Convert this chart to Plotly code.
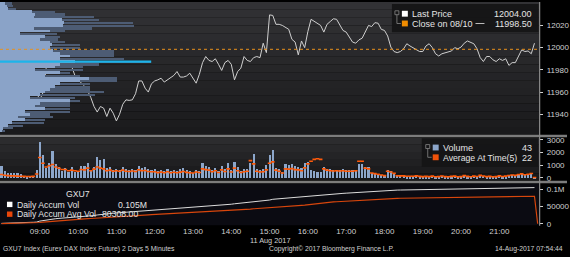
import numpy as np
import pandas as pd
import plotly.graph_objects as go

W, H = 570, 257

# ---------------- data ----------------
bar_times = pd.date_range("2017-08-11 08:00", periods=168, freq="5min")

close_prices = [
    11956.0, 11955.0, 11963.5, 11965.5, 11962.0, 11965.5, 11966.5, 11963.0, 11965.5, 11967.5, 11963.5, 11959.5,
    11953.0, 11959.5, 11981.5, 11988.5, 11986.5, 11985.0, 11985.5, 11986.5, 11985.5, 11990.0, 11983.0, 11975.0,
    11971.0, 11968.0, 11965.5, 11961.0, 11955.0, 11947.0, 11942.0, 11947.0, 11945.5, 11938.0, 11945.5, 11941.0,
    11934.0, 11940.0, 11949.0, 11953.0, 11952.5, 11953.0, 11958.5, 11970.0, 11970.0, 11963.5, 11960.0, 11967.5,
    11970.0, 11971.0, 11972.5, 11969.0, 11971.0, 11973.5, 11975.0, 11978.5, 11973.5, 11973.5, 11974.5, 11977.0,
    11972.5, 11968.0, 11976.0, 11986.5, 11992.0, 11988.5, 11987.5, 11990.0, 11985.0, 11979.5, 11986.5, 11988.5,
    11985.0, 11971.0, 11978.5, 11981.5, 11992.0, 11988.5, 11987.5, 11991.0, 11992.0, 11991.0, 12004.0, 11995.5,
    12029.5, 12029.0, 12021.0, 12021.0, 12020.0, 12018.0, 12016.5, 12007.5, 12005.0, 11993.5, 12006.0, 12000.0,
    12014.5, 12025.5, 12023.5, 12022.0, 12020.0, 12014.0, 12021.0, 12023.5, 12026.0, 12025.5, 12021.0, 12015.5,
    12014.0, 12009.5, 12005.0, 12004.0, 12007.0, 12008.5, 12014.5, 12020.0, 12019.0, 12022.5, 12022.0, 12016.5,
    12015.5, 12010.5, 12000.5, 11996.5, 11995.5, 11996.5, 11999.0, 12003.5, 12001.5, 12000.0, 11998.0, 11996.5,
    11996.5, 12001.5, 12003.5, 12000.0, 11994.5, 11992.5, 11994.5, 11995.5, 11996.5, 11997.0, 12000.0, 11999.0,
    12000.5, 12004.0, 12006.0, 12005.0, 12003.5, 11999.0, 11991.0, 11987.5, 11992.0, 11992.0, 11989.0, 11987.5,
    11990.0, 11988.5, 11990.0, 11984.0, 11986.5, 11986.5, 11992.5, 11998.0, 11996.5, 11997.0, 11994.5, 12004.0,
]

volume = [
    950, 560, 420, 380, 420, 380, 280, 200, 150, 190, 170, 650,
    2850, 1820, 820, 1200, 2150, 1080, 900, 570, 830, 450, 880, 450,
    530, 950, 950, 1150, 650, 900, 1650, 1420, 1480, 780, 850, 650,
    700, 650, 850, 700, 650, 700, 650, 950, 780, 850, 700, 650,
    700, 530, 650, 530, 700, 530, 650, 530, 700, 780, 650, 530,
    420, 650, 530, 1150, 950, 850, 650, 780, 530, 950, 700, 1150,
    630, 1300, 900, 570, 700, 750, 1200, 1920, 750, 630, 700, 1000,
    1850, 2180, 830, 750, 450, 1080, 1000, 1080, 950, 900, 830, 1200,
    1300, 650, 520, 450, 450, 850, 700, 700, 650, 650, 650, 700,
    600, 600, 600, 650, 1100, 1100, 900, 850, 420, 370, 300, 230,
    170, 600, 520, 400, 170, 170, 170, 120, 120, 120, 170, 120,
    120, 150, 120, 170, 100, 130, 190, 120, 100, 150, 170, 100,
    120, 220, 150, 110, 170, 140, 260, 190, 120, 150, 100, 130,
    170, 110, 150, 210, 260, 220, 300, 360, 260, 320, 390, 43,
]

avg_at_time = [
    260, 200, 170, 150, 150, 130, 120, 110, 100, 100, 110, 300,
    1600, 1150, 850, 950, 1050, 850, 750, 650, 650, 560, 600, 560,
    520, 650, 620, 760, 560, 680, 850, 760, 700, 560, 600, 520,
    560, 520, 600, 520, 500, 540, 500, 620, 560, 580, 500, 480,
    470, 410, 450, 400, 470, 400, 440, 400, 450, 490, 430, 400,
    380, 460, 420, 700, 640, 600, 480, 560, 420, 620, 500, 700,
    460, 760, 560, 420, 480, 520, 1350, 1100, 520, 460, 480, 620,
    1150, 1250, 600, 520, 380, 700, 680, 720, 640, 620, 560, 780,
    1100, 1300, 1450, 1500, 1450, 700, 600, 560, 540, 560, 540, 560,
    520, 520, 520, 560, 1300, 1300, 760, 700, 380, 330, 280, 220,
    170, 520, 460, 350, 160, 150, 150, 120, 120, 120, 150, 110,
    90, 110, 90, 130, 80, 90, 140, 90, 80, 110, 130, 80,
    90, 170, 110, 80, 130, 100, 190, 140, 90, 110, 80, 90,
    150, 100, 130, 180, 220, 190, 260, 310, 240, 280, 340, 22,
]

profile_prices = [
    12040.0, 12037.5, 12035.0, 12032.5, 12030.0, 12027.5, 12025.0, 12022.5, 12020.0, 12017.5,
    12015.0, 12012.5, 12010.0, 12007.5, 12005.0, 12002.5, 12000.0, 11997.5, 11995.0, 11992.5,
    11990.0, 11987.5, 11985.0, 11982.5, 11980.0, 11977.5, 11975.0, 11972.5, 11970.0, 11967.5,
    11965.0, 11962.5, 11960.0, 11957.5, 11955.0, 11952.5, 11950.0, 11947.5, 11945.0, 11942.5,
    11940.0, 11937.5, 11935.0, 11932.5, 11930.0, 11927.5, 11925.0,
]
profile_light = [
    125, 175, 200, 800, 875, 850, 1550, 1600, 1575, 850, 1250, 500, 1125, 1000, 1250, 1300,
    1250, 1325, 1500, 1750, 1500, 1875, 1500, 1375, 875, 1500, 1125, 2225, 2000, 1500, 1375,
    1250, 1125, 1000, 750, 1750, 1000, 875, 1125, 625, 750, 450, 625, 300, 200, 75, 50,
]
profile_dark = [
    175, 150, 200, 575, 750, 1500, 950, 1750, 1800, 1450, 375, 925, 375, 450, 375, 700,
    750, 1550, 1375, 1125, 1625, 1925, 1000, 700, 1200, 250, 875, 725, 950, 750, 875,
    1000, 1500, 1375, 1125, 250, 750, 875, 625, 1125, 500, 875, 500, 800, 375, 250, 75,
]

prev_close = 11998.50
last_price = 12004.00
accum_vol_label = "0.105M"
accum_avg_label = "80308.00"
price_ticks = [11940, 11960, 11980, 12000, 12020]
volume_ticks = [0, 1000, 2000, 3000]
accum_ticks = [0, 50000, 100000]
accum_tick_text = ["0", "50000", "0.1M"]
hour_ticks = pd.date_range("2017-08-11 09:00", "2017-08-11 21:00", freq="h")
day_bounds = [pd.Timestamp("2017-08-11 08:00"), pd.Timestamp("2017-08-11 22:00")]

# ---------------- derived ----------------
accum_vol = np.cumsum(volume)
accum_avg = list(np.cumsum(avg_at_time)) + [0]
accum_avg_x = list(bar_times) + [day_bounds[1]]
prof_total = np.array(profile_light) + np.array(profile_dark)
poc = int(np.argmax(prof_total))

# ---------------- layout helpers ----------------
def px(x):
    return x / W

def py(y):
    return 1 - y / H

XR = [pd.Timestamp("2017-08-11 07:57:40"), pd.Timestamp("2017-08-11 22:02:20")]
XD = [0, 542 / W]
FONT = "Liberation Sans, Arial, sans-serif"
TXT = "#e4e4e4"

fig = go.Figure()

# volume-at-price profile (left of price panel)
fig.add_trace(go.Bar(orientation="h", x=profile_light, y=profile_prices, width=2.5,
                     marker=dict(color="#8aa3c8", line=dict(width=0)),
                     xaxis="x2", yaxis="y", hoverinfo="skip"))
fig.add_trace(go.Bar(orientation="h", x=profile_dark, base=profile_light, y=profile_prices, width=1.5,
                     marker=dict(color="#4d5c74", line=dict(width=0)),
                     xaxis="x2", yaxis="y", hoverinfo="skip"))
fig.add_trace(go.Scatter(x=[0, prof_total[poc]], y=[profile_prices[poc]] * 2, mode="lines",
                         line=dict(color="#1db4ea", width=2.2), xaxis="x2", yaxis="y"))

# price line
fig.add_trace(go.Scatter(x=bar_times, y=close_prices, mode="lines",
                         line=dict(color="#cfcfcf", width=1), xaxis="x", yaxis="y"))

# volume panel
fig.add_trace(go.Bar(x=bar_times, y=volume, width=200000,
                     marker=dict(color="#8ca6ca", line=dict(width=0)),
                     xaxis="x3", yaxis="y2"))
fig.add_trace(go.Scatter(x=bar_times, y=avg_at_time, mode="markers",
                         marker=dict(symbol="line-ew", size=2.6, line=dict(width=1.6, color="#ff5a0a")),
                         xaxis="x3", yaxis="y2"))

# accumulated volume panel
fig.add_trace(go.Scatter(x=bar_times, y=accum_vol, mode="lines",
                         line=dict(color="#dcdcdc", width=1), xaxis="x4", yaxis="y3"))
fig.add_trace(go.Scatter(x=accum_avg_x, y=accum_avg, mode="lines",
                         line=dict(color="#d8460c", width=1.2), xaxis="x4", yaxis="y3"))

tickfont = dict(family=FONT, size=8, color="#d0d0d0")
common_x = dict(domain=XD, range=XR, type="date", showgrid=False, zeroline=False, showline=False)

fig.update_layout(
    width=W, height=H, margin=dict(l=0, r=0, t=0, b=0),
    paper_bgcolor="#000000", plot_bgcolor="rgba(0,0,0,0)",
    showlegend=False, barmode="overlay", bargap=0,
    xaxis=dict(**common_x, anchor="y", showticklabels=False, ticks=""),
    xaxis2=dict(overlaying="x", anchor="y", range=[0, 13550], visible=False),
    xaxis3=dict(**common_x, anchor="y2", showticklabels=False, ticks=""),
    xaxis4=dict(**common_x, anchor="y3", tickmode="array", tickvals=list(hour_ticks),
                ticktext=[t.strftime("%H:%M") for t in hour_ticks], ticks="",
                tickfont=tickfont),
    xaxis5=dict(domain=XD, range=XR, type="date", overlaying="x4", anchor="y3", side="bottom",
                showgrid=False, zeroline=False, showticklabels=False,
                showline=True, linecolor="#8c8c8c", linewidth=1,
                tickmode="array", tickvals=day_bounds, ticks="outside", ticklen=12,
                tickcolor="#9a9a9a", tickwidth=1,
                minor=dict(dtick=3600000, tick0="2017-08-11 08:30:00", ticks="outside",
                           ticklen=3, tickcolor="#9a9a9a", tickwidth=1)),
    yaxis=dict(domain=[py(136), 1], range=[11921.5, 12041.1], side="right", anchor="x",
               tickmode="array", tickvals=price_ticks, ticktext=[str(v) for v in price_ticks],
               ticks="outside", ticklen=3, tickcolor="#d0d0d0",
               tickfont=tickfont, showgrid=False, zeroline=False, ticklabelstandoff=2),
    yaxis2=dict(domain=[py(182), py(139)], range=[-154, 3154], side="right", anchor="x3",
                tickmode="array", tickvals=volume_ticks, ticktext=[str(v) for v in volume_ticks],
                ticks="outside", ticklen=3, tickcolor="#d0d0d0",
                tickfont=tickfont, showgrid=False, zeroline=False, ticklabelstandoff=2),
    yaxis3=dict(domain=[py(228), py(186)], range=[-2857, 117143], side="right", anchor="x4",
                tickmode="array", tickvals=accum_ticks, ticktext=accum_tick_text,
                ticks="outside", ticklen=3, tickcolor="#d0d0d0", tickfont=tickfont,
                showgrid=False, zeroline=False, ticklabelstandoff=2),
)

shapes = []

def band_bg(y_top, y_bot, c_top, c_bot, n):
    step = (y_bot - y_top) / n
    for i in range(n):
        f = i / max(n - 1, 1)
        c = [int(round(c_top[k] + (c_bot[k] - c_top[k]) * f)) for k in range(3)]
        shapes.append(dict(type="rect", xref="paper", yref="paper", layer="below",
                           x0=0, x1=px(542), y0=py(y_top + (i + 1) * step), y1=py(y_top + i * step),
                           fillcolor="rgb(%d,%d,%d)" % tuple(c), line=dict(width=0)))

band_bg(0, 136, (50, 50, 53), (26, 26, 28), 17)
band_bg(139, 182.5, (44, 44, 46), (24, 24, 26), 6)
shapes.append(dict(type="rect", xref="paper", yref="paper", layer="below",
                   x0=0, x1=px(542), y0=py(228.5), y1=py(186), fillcolor="#0b0b12", line=dict(width=0)))

# separators
for y0, y1 in [(136, 138.5), (183, 185.5)]:
    shapes.append(dict(type="rect", xref="paper", yref="paper", x0=0, x1=1, y0=py(y1), y1=py(y0),
                       fillcolor="#7c7c7c", line=dict(width=0)))
# right axis line
shapes.append(dict(type="line", xref="paper", yref="paper", x0=px(542.5), x1=px(542.5),
                   y0=py(229), y1=1, line=dict(color="#8c8c8c", width=1.2)))

# previous close dotted line
shapes.append(dict(type="line", xref="x domain", x0=0, x1=1, yref="y", y0=prev_close, y1=prev_close,
                   line=dict(color="#e8901c", width=1, dash="dot")))

# price legend box
shapes.append(dict(type="rect", xref="paper", yref="paper", x0=px(394), x1=px(541.5), y0=py(31), y1=py(2),
                   fillcolor="rgba(20,20,22,0.93)", line=dict(width=0)))
shapes.append(dict(type="rect", xref="paper", yref="paper", x0=px(404), x1=px(410), y0=py(15), y1=py(9),
                   fillcolor="#ffffff", line=dict(width=0)))
shapes.append(dict(type="rect", xref="paper", yref="paper", x0=px(404), x1=px(410), y0=py(25), y1=py(19),
                   fillcolor="#f08c00", line=dict(width=0)))
shapes.append(dict(type="line", xref="paper", yref="paper", x0=px(478), x1=px(495), y0=py(22), y1=py(22),
                   line=dict(color="#bdbdbd", width=1, dash="dash")))
# connector glyph (price legend)
shapes.append(dict(type="rect", xref="paper", yref="paper", x0=px(397), x1=px(401), y0=py(13), y1=py(9),
                   line=dict(color="#888888", width=0.8)))
shapes.append(dict(type="path", xref="paper", yref="paper",
                   path="M %f %f L %f %f L %f %f" % (px(399), py(13), px(399), py(22), px(403), py(22)),
                   line=dict(color="#888888", width=0.8)))

# volume legend box
shapes.append(dict(type="rect", xref="paper", yref="paper", x0=px(424), x1=px(541), y0=py(169), y1=py(139.5),
                   fillcolor="rgba(20,20,22,0.93)", line=dict(width=0)))
shapes.append(dict(type="rect", xref="paper", yref="paper", x0=px(435), x1=px(441), y0=py(152), y1=py(146),
                   fillcolor="#8ca6ca", line=dict(width=0)))
shapes.append(dict(type="rect", xref="paper", yref="paper", x0=px(435), x1=px(441), y0=py(162), y1=py(156),
                   fillcolor="#f0520a", line=dict(width=0)))
shapes.append(dict(type="rect", xref="paper", yref="paper", x0=px(428), x1=px(432), y0=py(150), y1=py(146),
                   line=dict(color="#888888", width=0.8)))
shapes.append(dict(type="path", xref="paper", yref="paper",
                   path="M %f %f L %f %f L %f %f" % (px(430), py(150), px(430), py(159), px(434), py(159)),
                   line=dict(color="#888888", width=0.8)))

# accum legend squares
shapes.append(dict(type="rect", xref="paper", yref="paper", x0=px(7), x1=px(12.5), y0=py(210), y1=py(204.5),
                   fillcolor="#ffffff", line=dict(width=0)))
shapes.append(dict(type="rect", xref="paper", yref="paper", x0=px(7), x1=px(12.5), y0=py(220), y1=py(214.5),
                   fillcolor="#e8460a", line=dict(width=0)))

fig.update_layout(shapes=shapes)

def note(text, x, y, anchor="left", size=9, color=TXT):
    fig.add_annotation(text=text, xref="paper", yref="paper", x=px(x), y=py(y),
                       xanchor=anchor, yanchor="middle", showarrow=False,
                       font=dict(family=FONT, size=size, color=color))

# price legend text
note("Last Price", 412, 12.5)
note("%.2f" % last_price, 537, 12.5, "right")
note("Close on 08/10", 412, 22.5)
note("%.2f" % prev_close, 537, 22.5, "right")

# volume legend text
note("Volume", 443, 149.5)
note("%d" % volume[-1], 537, 149.5, "right")
note("Average At Time(5)", 443, 159.5, size=8.7)
note("%d" % avg_at_time[-1], 537, 159.5, "right")

# accum legend text
note("GXU7", 78, 197, "center", size=8.7)
note("Daily Accum Vol", 15, 207.5, size=8.7)
note(accum_vol_label, 150, 207.5, "right", size=8.7)
note("Daily Accum Avg Vol", 15, 217.5, size=8.7)
note(accum_avg_label, 141, 217.5, "right", size=8.7)

# date and footer
note("11 Aug 2017", 271, 244.5, "center", size=7.3, color="#d0d0d0")
note("GXU7 Index (Eurex DAX Index Future) 2 Days 5 Minutes", 1, 252.5, "left", size=6.8, color="#d0d0d0")
note("Copyright\u00a9 2017 Bloomberg Finance L.P.", 333, 252.5, "center", size=6.8, color="#d0d0d0")
note("14-Aug-2017 07:54:44", 568, 252.5, "right", size=6.8, color="#d0d0d0")

fig.write_html("out.html")
